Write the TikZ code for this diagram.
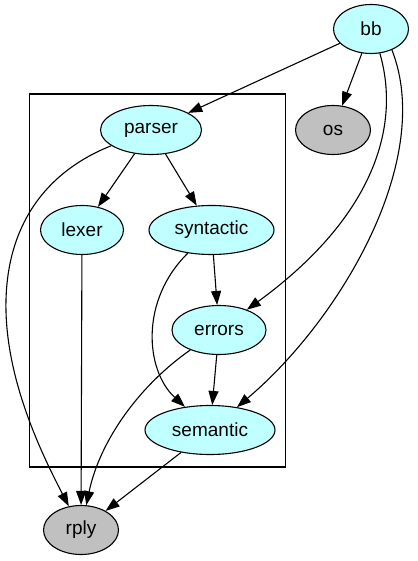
\documentclass[tikz,border=0pt]{standalone}
\usepackage{fontspec}
\setmainfont{Liberation Sans}
\usetikzlibrary{shapes.geometric,arrows.meta}
\definecolor{cyanfill}{HTML}{C0FFFF}
\definecolor{grayfill}{HTML}{C0C0C0}
\begin{document}
\begin{tikzpicture}[x=1pt,y=-1pt,
  nd/.style={ellipse,draw,line width=1.1pt,inner sep=0pt,minimum height=49pt,font=\fontsize{19}{21}\selectfont},
  pkg/.style={nd,fill=cyanfill},
  ext/.style={nd,fill=grayfill},
  edge/.style={line width=1.1pt,-{Triangle[length=14pt,width=10pt]}}]
\useasboundingbox (0,0) rectangle (417,561);
% cluster
\draw[line width=1.1pt] (29.5,94) rectangle (285.5,467);
% nodes
\node[pkg,minimum width=75pt]  (bb)        at (371,29)  {bb};
\node[ext,minimum width=75pt]  (os)        at (333,130) {os};
\node[pkg,minimum width=101pt] (parser)    at (151,130) {parser};
\node[pkg,minimum width=83pt]  (lexer)     at (82,230)  {lexer};
\node[pkg,minimum width=125pt] (syntactic) at (211.5,230) {syntactic};
\node[pkg,minimum width=94pt]  (errors)    at (219,330) {errors};
\node[pkg,minimum width=130pt] (semantic)  at (210,430) {semantic};
\node[ext,minimum width=75pt]  (rply)      at (81,530)  {rply};
% edges
\draw[edge] (bb) -- (parser);
\draw[edge] (bb) -- (os);
\draw[edge] (bb.-70) .. controls (402,130) and (370,220) .. (errors);
\draw[edge] (bb.-45) .. controls (435,160) and (340,320) .. (semantic);
\draw[edge] (parser) -- (lexer);
\draw[edge] (parser) -- (syntactic);
\draw[edge] (parser) .. controls (50,170) and (8,220) .. (6,300) .. controls (4,380) and (45,460) .. (rply);
\draw[edge] (lexer) -- (rply);
\draw[edge] (syntactic) -- (errors);
\draw[edge] (syntactic) .. controls (140,300) and (145,370) .. (semantic);
\draw[edge] (errors) -- (semantic);
\draw[edge] (errors) .. controls (140,385) and (100,440) .. (rply);
\draw[edge] (semantic) -- (rply);
\end{tikzpicture}
\end{document}
